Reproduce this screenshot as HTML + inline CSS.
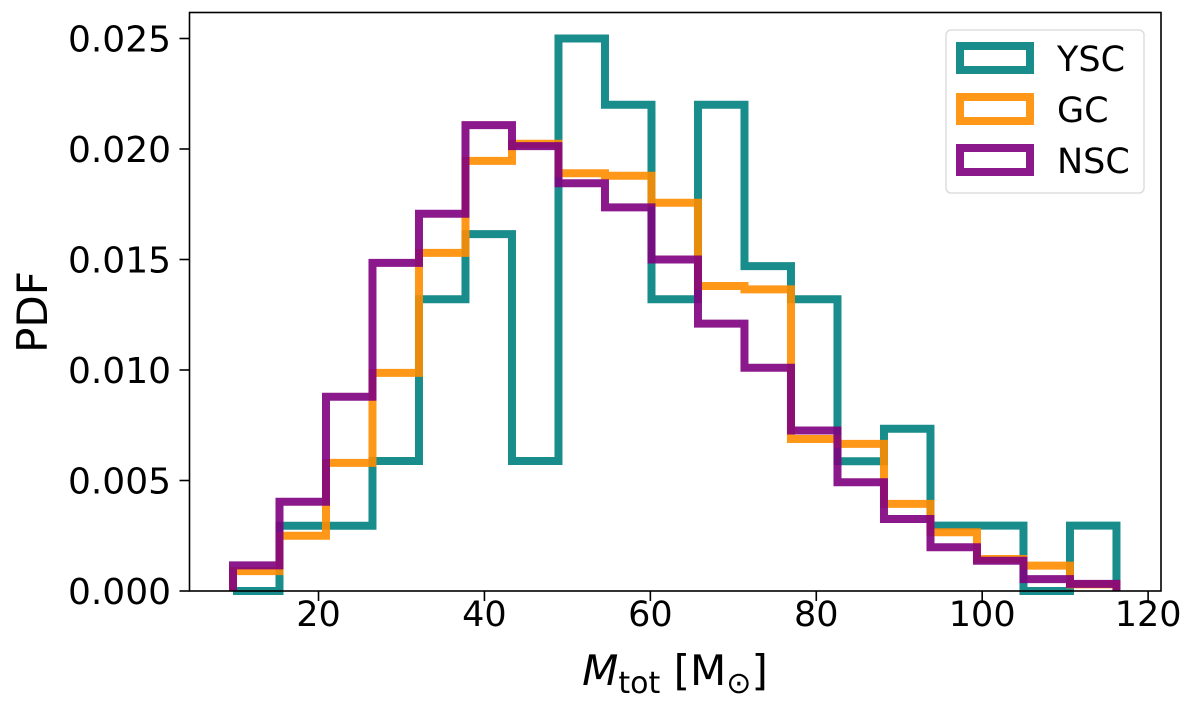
<!DOCTYPE html>
<html><head><meta charset="utf-8"><style>
body{margin:0;background:#fff}
svg{display:block;font-family:"DejaVu Sans","Liberation Sans",sans-serif}
</style></head><body>
<svg id="chart" width="1200" height="709">
<g id="marks"></g>
<rect x="189.5" y="12.5" width="971.5" height="578.5" fill="none" stroke="#000" stroke-width="1.6"/>
<g id="xt"></g>
<g id="yt"></g>
<text x="47" y="312" font-size="42" text-anchor="middle" transform="rotate(-90 47 312)">PDF</text>
<text x="675" y="685" font-size="42" text-anchor="middle"><tspan font-style="italic">M</tspan><tspan font-size="30" dy="8">tot</tspan><tspan dy="-8"> [M</tspan><tspan font-size="30" dy="8">⊙</tspan><tspan dy="-8">]</tspan></text>
<g>
<rect x="946" y="30" width="198" height="163" rx="5" fill="#fff" stroke="#ddd" stroke-width="1.5"/>
<g id="leg"></g>
</g>
</svg>
<script>
const binStart = 9.69;
const binWidth = 5.605;
const seriesNames = ["YSC","GC","NSC"];
const yscValues = [0,0.00295,0.00295,0.00588,0.0132,0.01615,0.00588,0.025,0.022,0.0132,0.022,0.0147,0.0132,0.00587,0.00734,0.00296,0.00296,0,0.00296];
const gcValues = [0.0009,0.0025,0.0058,0.00987,0.0153,0.01946,0.02024,0.0189,0.01879,0.01757,0.0138,0.01365,0.00688,0.00666,0.00394,0.00266,0.00145,0.00115,0.0003];
const nscValues = [0.00116,0.00404,0.00879,0.01485,0.01707,0.02108,0.02013,0.01845,0.01736,0.015,0.0121,0.0101,0.00726,0.00492,0.00326,0.00198,0.00137,0.00054,0.00032];
const xTicks = [20,40,60,80,100,120];
const yTicks = [0,0.005,0.010,0.015,0.020,0.025];
const yTickLabels = ["0.000","0.005","0.010","0.015","0.020","0.025"];
const colors = ["rgba(0,128,128,0.9)","rgba(255,140,0,0.9)","rgba(128,0,128,0.9)"];
const NS="http://www.w3.org/2000/svg";
const X = v => 152.6 + v*8.296;
const Y = v => 591 - v*22100;
function mk(tag, attrs, parent){const e=document.createElementNS(NS,tag);for(const k in attrs)e.setAttribute(k,attrs[k]);parent.appendChild(e);return e;}
const marks=document.getElementById('marks');
[yscValues,gcValues,nscValues].forEach((vals,si)=>{
  let d="M"+X(binStart)+","+Y(0);
  vals.forEach((v,i)=>{
    const x0=X(binStart+i*binWidth), x1=X(binStart+(i+1)*binWidth);
    d+=" L"+x0+","+Y(v)+" L"+x1+","+Y(v);
  });
  d+=" L"+X(binStart+vals.length*binWidth)+","+Y(0);
  const p=mk('path',{d:d,fill:"none",stroke:colors[si],"stroke-width":8,"stroke-linejoin":"miter"},marks);
  
  
});
const xt=document.getElementById('xt');
xTicks.forEach(t=>{
  mk('line',{x1:X(t),x2:X(t),y1:591,y2:601,stroke:"#000","stroke-width":1.6},xt);
  const tx=mk('text',{x:X(t),y:626,"font-size":35,"text-anchor":"middle"},xt);
  tx.textContent=t;
  
  
});
const yt=document.getElementById('yt');
yTicks.forEach((t,i)=>{
  mk('line',{x1:179.5,x2:189.5,y1:Y(t),y2:Y(t),stroke:"#000","stroke-width":1.6},yt);
  const tx=mk('text',{x:171,y:Y(t)+13,"font-size":36,"text-anchor":"end"},yt);
  tx.textContent=yTickLabels[i];
  
  
});
const leg=document.getElementById('leg');
seriesNames.forEach((n,i)=>{
  const cy=58+i*51;
  const r=mk('rect',{x:960,y:cy-12,width:70,height:24,fill:"none",stroke:colors[i],"stroke-width":8},leg);
  
  
  const tx=mk('text',{x:1057,y:cy+13,"font-size":35},leg);
  tx.textContent=n;
  
  
});
</script>
</body></html>
